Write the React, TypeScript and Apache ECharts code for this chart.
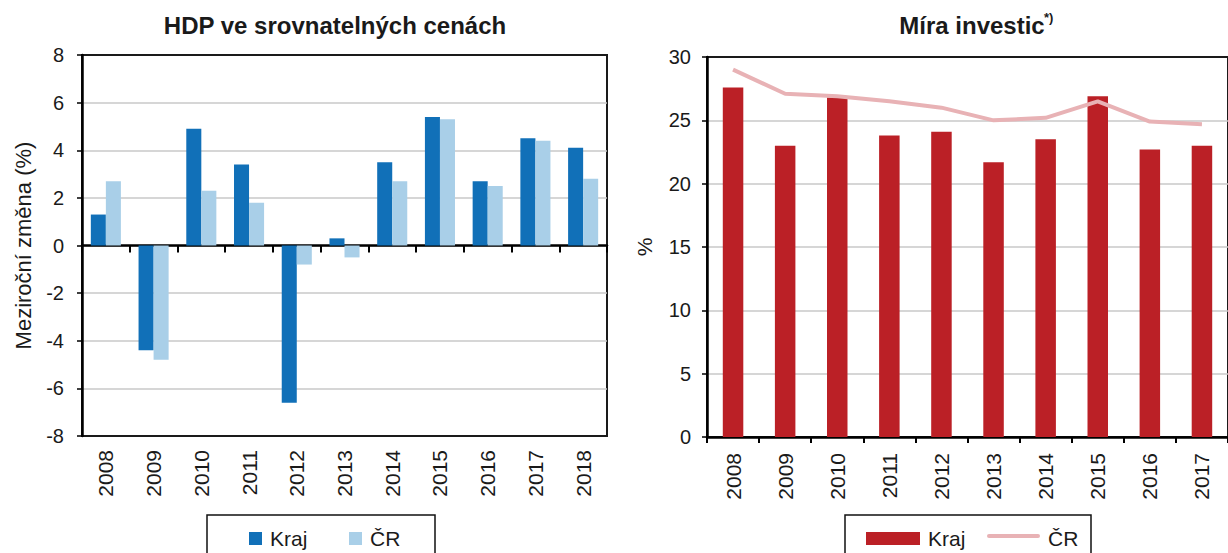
import { useEffect, useRef } from 'react';
import * as echarts from 'echarts';

// ---- data ----
const gdpYears = ['2008', '2009', '2010', '2011', '2012', '2013', '2014', '2015', '2016', '2017', '2018'];
const gdpKraj = [1.3, -4.4, 4.9, 3.4, -6.6, 0.3, 3.5, 5.4, 2.7, 4.5, 4.1];
const gdpCR = [2.7, -4.8, 2.3, 1.8, -0.8, -0.5, 2.7, 5.3, 2.5, 4.4, 2.8];

const invYears = ['2008', '2009', '2010', '2011', '2012', '2013', '2014', '2015', '2016', '2017'];
const invKraj = [27.6, 23.0, 26.8, 23.8, 24.1, 21.7, 23.5, 26.9, 22.7, 23.0];
const invCR = [29.0, 27.1, 26.9, 26.5, 26.0, 25.0, 25.2, 26.5, 24.9, 24.7];

const gdpTitle = 'HDP ve srovnatelných cenách';
const invTitle = 'Míra investic';
const invTitleSup = '*)';
const gdpYName = 'Meziroční změna (%)';
const invYName = '%';
const legendNames = ['Kraj', 'ČR'];

const FONT = "'Liberation Sans', Arial, Helvetica, sans-serif";
const TXT = '#1a1a1a';
const BLUE = '#1170b8';
const LIGHTBLUE = '#a9cfe8';
const RED = '#bb2026';
const PINK = '#e8b2b5';
const GRIDC = '#c8c8c8';

function txt(text: string, x: number, y: number, size: number, opts: any = {}) {
  return {
    type: 'text',
    x,
    y,
    silent: true,
    style: {
      text,
      fontSize: size,
      fontFamily: FONT,
      fontWeight: opts.bold ? 'bold' : 'normal',
      fill: TXT,
      align: opts.align || 'left',
      textAlign: opts.align || 'left',
      verticalAlign: 'middle',
      textVerticalAlign: 'middle',
    },
  };
}

export default function App() {
  const ref = useRef<HTMLDivElement>(null);

  useEffect(() => {
    if (!ref.current) return;
    const chart = echarts.init(ref.current, null, { renderer: 'svg' });

    const yAxisCommon = {
      type: 'value',
      axisLine: { show: true, lineStyle: { color: '#000', width: 2.5 } },
      axisTick: { show: true, length: 5, lineStyle: { color: '#000', width: 1.5 } },
      splitLine: { show: true, showMinLine: false, showMaxLine: false, lineStyle: { color: GRIDC, width: 1.5 } },
      nameLocation: 'middle',
    };

    const option: any = {
      animation: false,
      backgroundColor: '#fff',
      textStyle: { fontFamily: FONT, color: TXT },
      grid: [
        { left: 82, top: 55, width: 525, height: 381, show: true, borderColor: '#1a1a1a', borderWidth: 2, backgroundColor: 'transparent' },
        { left: 707, top: 57, width: 527, height: 380, show: true, borderColor: '#1a1a1a', borderWidth: 2, backgroundColor: 'transparent' },
      ],
      xAxis: [
        {
          gridIndex: 0,
          type: 'category',
          data: gdpYears,
          position: 'bottom',
          axisLine: { show: false, onZero: false },
          axisTick: { show: false },
          axisLabel: { rotate: 90, margin: 14, fontSize: 21, color: TXT, fontFamily: FONT },
          splitLine: { show: false },
        },
        {
          gridIndex: 0,
          type: 'category',
          data: gdpYears,
          position: 'bottom',
          axisLine: { show: true, onZero: true, lineStyle: { color: '#000', width: 2.5 } },
          axisTick: { show: true, length: 7, lineStyle: { color: '#000', width: 2 } },
          axisLabel: { show: false },
          splitLine: { show: false },
        },
        {
          gridIndex: 1,
          type: 'category',
          data: invYears,
          position: 'bottom',
          axisLine: { show: true, lineStyle: { color: '#000', width: 2.5 } },
          axisTick: { show: true, length: 6, lineStyle: { color: '#000', width: 2 } },
          axisLabel: { rotate: 90, margin: 16, fontSize: 21, color: TXT, fontFamily: FONT },
          splitLine: { show: false },
        },
      ],
      yAxis: [
        {
          ...yAxisCommon,
          gridIndex: 0,
          min: -8,
          max: 8,
          interval: 2,
          axisLabel: { fontSize: 20, color: TXT, fontFamily: FONT, margin: 18 },
          name: gdpYName,
          nameGap: 48,
          nameTextStyle: { fontSize: 22, color: TXT, fontFamily: FONT },
        },
        {
          ...yAxisCommon,
          gridIndex: 1,
          min: 0,
          max: 30,
          interval: 5,
          axisLabel: { fontSize: 20, color: TXT, fontFamily: FONT, margin: 16 },
          name: invYName,
          nameGap: 52,
          nameTextStyle: { fontSize: 21, color: TXT, fontFamily: FONT },
        },
      ],
      series: [
        {
          type: 'bar',
          name: legendNames[0],
          xAxisIndex: 0,
          yAxisIndex: 0,
          data: gdpKraj,
          barGap: '0%',
          barCategoryGap: '37%',
          itemStyle: { color: BLUE },
        },
        {
          type: 'bar',
          name: legendNames[1],
          xAxisIndex: 0,
          yAxisIndex: 0,
          data: gdpCR,
          barGap: '0%',
          barCategoryGap: '37%',
          itemStyle: { color: LIGHTBLUE },
        },
        {
          type: 'bar',
          name: legendNames[0],
          xAxisIndex: 2,
          yAxisIndex: 1,
          data: invKraj,
          barWidth: 20.5,
          itemStyle: { color: RED },
        },
        {
          type: 'line',
          name: legendNames[1],
          xAxisIndex: 2,
          yAxisIndex: 1,
          data: invCR,
          symbol: 'none',
          lineStyle: { color: PINK, width: 4 },
          itemStyle: { color: PINK },
          z: 3,
        },
      ],
      graphic: [
        // titles
        txt(gdpTitle, 335, 25, 24, { bold: true, align: 'center' }),
        txt(invTitle, 972, 25, 24, { bold: true, align: 'center' }),
        txt(invTitleSup, 1044, 17, 13, { bold: true }),
        // left legend
        {
          type: 'rect',
          silent: true,
          shape: { x: 207, y: 515, width: 228, height: 60 },
          style: { fill: '#fff', stroke: '#111', lineWidth: 1.5 },
        },
        { type: 'rect', silent: true, shape: { x: 249, y: 532, width: 13, height: 13 }, style: { fill: BLUE } },
        txt(legendNames[0], 270, 538, 21),
        { type: 'rect', silent: true, shape: { x: 349, y: 532, width: 13, height: 13 }, style: { fill: LIGHTBLUE } },
        txt(legendNames[1], 370, 538, 21),
        // right legend
        {
          type: 'rect',
          silent: true,
          shape: { x: 845, y: 515, width: 246, height: 60 },
          style: { fill: '#fff', stroke: '#111', lineWidth: 1.5 },
        },
        { type: 'rect', silent: true, shape: { x: 866, y: 532, width: 54, height: 13 }, style: { fill: RED } },
        txt(legendNames[0], 928, 538, 21),
        {
          type: 'line',
          silent: true,
          shape: { x1: 989, y1: 536, x2: 1038, y2: 536 },
          style: { stroke: PINK, lineWidth: 4, lineCap: 'round' },
        },
        txt(legendNames[1], 1048, 538, 21),
      ],
    };

    chart.setOption(option);
    return () => chart.dispose();
  }, []);

  return (
    <div
      ref={ref}
      style={{ position: 'absolute', left: 0, top: 0, width: 1228, height: 553, background: '#fff' }}
    />
  );
}
